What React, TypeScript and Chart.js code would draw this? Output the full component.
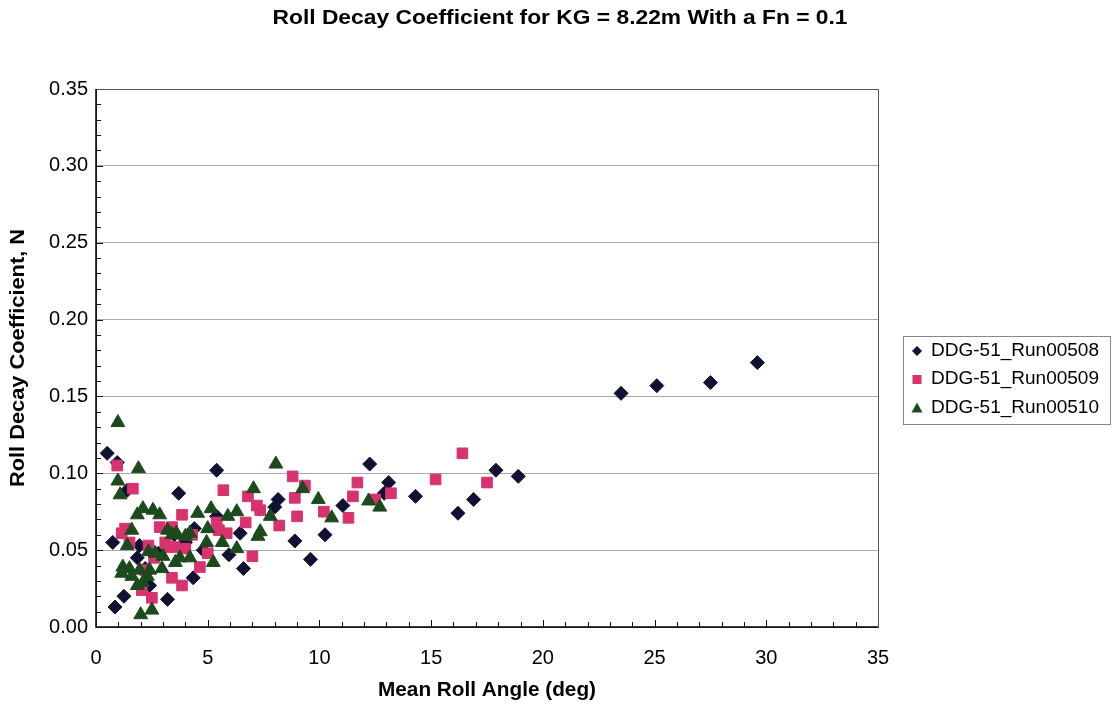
import React, { useEffect, useRef } from 'react';
import { Chart, registerables } from 'chart.js';

Chart.register(...registerables);

const TITLE = 'Roll Decay Coefficient for KG = 8.22m With a Fn = 0.1';
const X_TITLE = 'Mean Roll Angle (deg)';
const Y_TITLE = 'Roll Decay Coefficient, N';
const SERIES_NAMES = ['DDG-51_Run00508', 'DDG-51_Run00509', 'DDG-51_Run00510'];
const X_TICKS = [0, 5, 10, 15, 20, 25, 30, 35];
const Y_TICKS = [0, 0.05, 0.1, 0.15, 0.2, 0.25, 0.3, 0.35];

const run508X = [0.5, 0.95, 0.75, 0.85, 1.25, 1.4, 1.85, 1.95, 2.4, 2.2, 2.8, 3.2, 3.7, 3.5, 4.0, 4.35, 4.4, 4.8, 5.4, 5.4, 5.95, 6.45, 6.6, 8.0, 8.15, 8.9, 9.6, 10.25, 11.05, 12.25, 12.9, 13.1, 14.3, 16.2, 16.9, 17.9, 18.9, 23.5, 25.1, 27.5, 29.6];
const run508Y = [0.113, 0.107, 0.055, 0.013, 0.02, 0.089, 0.045, 0.053, 0.027, 0.038, 0.048, 0.018, 0.087, 0.06, 0.055, 0.032, 0.064, 0.05, 0.102, 0.072, 0.047, 0.061, 0.038, 0.078, 0.083, 0.056, 0.044, 0.06, 0.079, 0.106, 0.087, 0.094, 0.085, 0.074, 0.083, 0.102, 0.098, 0.152, 0.157, 0.159, 0.172];

const run509X = [0.95, 1.65, 1.3, 1.15, 1.5, 2.05, 2.2, 2.35, 2.5, 2.6, 2.85, 3.1, 3.2, 3.4, 3.4, 3.5, 3.85, 3.85, 4.0, 4.3, 4.65, 5.0, 5.4, 5.5, 5.7, 5.85, 6.7, 7.0, 6.8, 7.2, 7.35, 8.2, 8.8, 8.9, 9.0, 9.35, 10.2, 11.3, 11.5, 11.7, 12.5, 13.2, 15.2, 16.4, 17.5];
const run509Y = [0.105, 0.09, 0.064, 0.061, 0.055, 0.024, 0.037, 0.053, 0.019, 0.045, 0.065, 0.055, 0.052, 0.065, 0.032, 0.052, 0.073, 0.027, 0.051, 0.06, 0.039, 0.048, 0.068, 0.063, 0.089, 0.061, 0.068, 0.046, 0.085, 0.079, 0.076, 0.066, 0.098, 0.084, 0.072, 0.092, 0.075, 0.071, 0.085, 0.094, 0.083, 0.087, 0.096, 0.113, 0.094];

const run510X = [0.98, 1.9, 0.98, 1.08, 1.85, 2.1, 2.55, 2.85, 1.6, 1.4, 1.15, 1.2, 1.5, 1.6, 1.85, 1.95, 2.0, 2.1, 2.3, 2.4, 2.5, 2.35, 2.65, 2.95, 3.0, 3.2, 3.4, 3.55, 3.6, 3.75, 4.0, 4.2, 4.2, 4.55, 4.95, 5.0, 5.15, 5.25, 5.65, 5.9, 6.3, 6.3, 7.05, 7.25, 7.35, 7.8, 8.05, 9.25, 9.95, 10.55, 12.2, 12.7];
const run510Y = [0.133, 0.103, 0.095, 0.086, 0.073, 0.077, 0.076, 0.073, 0.063, 0.053, 0.035, 0.039, 0.038, 0.033, 0.027, 0.037, 0.008, 0.029, 0.033, 0.037, 0.011, 0.049, 0.048, 0.038, 0.046, 0.063, 0.06, 0.042, 0.061, 0.045, 0.059, 0.061, 0.045, 0.074, 0.055, 0.064, 0.077, 0.042, 0.055, 0.072, 0.075, 0.051, 0.09, 0.059, 0.062, 0.072, 0.106, 0.09, 0.083, 0.071, 0.082, 0.078];

const COLORS = ['#111133', '#d8336f', '#1d4a1d'];
const FONT = "'Liberation Sans', Arial, sans-serif";

function toPoints(xs: number[], ys: number[]) {
  return xs.map((x, i) => ({ x, y: ys[i] }));
}

function drawFit(ctx: CanvasRenderingContext2D, text: string, x: number, y: number, font: string, width: number, align: 'center' | 'left', rotate = false) {
  ctx.save();
  ctx.font = font;
  const m = ctx.measureText(text).width;
  ctx.translate(x, y);
  if (rotate) ctx.rotate(-Math.PI / 2);
  ctx.scale(width / m, 1);
  ctx.textAlign = align;
  ctx.textBaseline = 'middle';
  ctx.fillStyle = '#000';
  ctx.fillText(text, 0, 0);
  ctx.restore();
}

function legendMarker(ctx: CanvasRenderingContext2D, i: number, x: number, y: number) {
  ctx.save();
  ctx.fillStyle = COLORS[i];
  ctx.beginPath();
  if (i === 0) {
    const r = 5;
    ctx.moveTo(x - r, y);
    ctx.lineTo(x, y - r);
    ctx.lineTo(x + r, y);
    ctx.lineTo(x, y + r);
    ctx.closePath();
  } else if (i === 1) {
    ctx.rect(x - 4.5, y - 4.5, 9, 9);
  } else {
    ctx.moveTo(x, y - 5.5);
    ctx.lineTo(x + 5.5, y + 4.5);
    ctx.lineTo(x - 5.5, y + 4.5);
    ctx.closePath();
  }
  ctx.fill();
  ctx.restore();
}

const decorPlugin = {
  id: 'decor',
  beforeDatasetsDraw(chart: any) {
    const ctx = chart.ctx as CanvasRenderingContext2D;
    const { left, right, top, bottom } = chart.chartArea;
    const xs = chart.scales.x;
    const ys = chart.scales.y;
    ctx.save();
    ctx.strokeStyle = '#111';
    ctx.lineWidth = 1;
    for (let i = 1; i < 35; i++) {
      const py = Math.round(ys.getPixelForValue(i / 100)) + 0.5;
      const len = i % 5 === 0 ? 7 : 5;
      ctx.beginPath();
      ctx.moveTo(left, py);
      ctx.lineTo(left + len, py);
      ctx.stroke();
    }
    for (let i = 1; i < 35; i++) {
      const px = Math.round(xs.getPixelForValue(i)) + 0.5;
      const len = i % 5 === 0 ? 7 : 5;
      ctx.beginPath();
      ctx.moveTo(px, bottom);
      ctx.lineTo(px, bottom - len);
      ctx.stroke();
    }
    ctx.strokeStyle = '#555';
    ctx.strokeRect(Math.round(left) + 0.5, Math.round(top) + 0.5, Math.round(right - left), Math.round(bottom - top));
    ctx.strokeStyle = '#000';
    ctx.lineWidth = 1.5;
    ctx.beginPath();
    ctx.moveTo(left, top);
    ctx.lineTo(left, bottom);
    ctx.lineTo(right, bottom);
    ctx.stroke();
    ctx.restore();
  },
  afterDraw(chart: any) {
    const ctx = chart.ctx as CanvasRenderingContext2D;
    const { left, right, top, bottom } = chart.chartArea;
    drawFit(ctx, TITLE, 560, 18, `bold 20px ${FONT}`, 575, 'center');
    drawFit(ctx, X_TITLE, (left + right) / 2, 690, `bold 20px ${FONT}`, 218, 'center');
    drawFit(ctx, Y_TITLE, 18, (top + bottom) / 2, `bold 20px ${FONT}`, 258, 'center', true);
    const lx = 903, ly = 336, lw = 207, lh = 88;
    ctx.save();
    ctx.strokeStyle = '#888';
    ctx.lineWidth = 1;
    ctx.strokeRect(lx + 0.5, ly + 0.5, lw, lh);
    ctx.restore();
    SERIES_NAMES.forEach((name, i) => {
      const cy = 351 + i * 28.5;
      legendMarker(ctx, i, 917, cy);
      drawFit(ctx, name, 931, cy, `18px ${FONT}`, 168, 'left');
    });
  },
};

export default function App() {
  const ref = useRef<HTMLCanvasElement | null>(null);
  useEffect(() => {
    if (!ref.current) return;
    const chart = new Chart(ref.current, {
      type: 'scatter',
      data: {
        datasets: [
          { label: SERIES_NAMES[0], data: toPoints(run508X, run508Y), pointStyle: 'rectRot', pointRadius: 7, backgroundColor: COLORS[0], borderColor: COLORS[0], borderWidth: 1, order: 2 },
          { label: SERIES_NAMES[1], data: toPoints(run509X, run509Y), pointStyle: 'rect', pointRadius: 7.5, backgroundColor: COLORS[1], borderColor: COLORS[1], borderWidth: 1, order: 1 },
          { label: SERIES_NAMES[2], data: toPoints(run510X, run510Y), pointStyle: 'triangle', pointRadius: 8, backgroundColor: COLORS[2], borderColor: COLORS[2], borderWidth: 1, order: 0 },
        ],
      },
      options: {
        responsive: false,
        animation: false,
        events: [],
        layout: { padding: { left: 0, top: 89, right: 238, bottom: 0 } },
        plugins: { legend: { display: false }, title: { display: false }, tooltip: { enabled: false } },
        scales: {
          x: {
            type: 'linear',
            min: 0,
            max: 35,
            afterBuildTicks: (s: any) => { s.ticks = X_TICKS.map((v) => ({ value: v })); },
            afterFit: (s: any) => { s.height = 82; },
            ticks: { color: '#000', font: { family: FONT, size: 20 }, padding: 11, callback: (v: any) => String(v) },
            grid: { display: false },
            border: { display: false },
          },
          y: {
            type: 'linear',
            min: 0,
            max: 0.35,
            afterBuildTicks: (s: any) => { s.ticks = Y_TICKS.map((v) => ({ value: v })); },
            afterFit: (s: any) => { s.width = 96; },
            ticks: { color: '#000', font: { family: FONT, size: 20 }, padding: 8, callback: (v: any) => Number(v).toFixed(2) },
            grid: { color: '#a8a8a8', lineWidth: 1, drawTicks: false },
            border: { display: false },
          },
        },
      },
      plugins: [decorPlugin],
    });
    return () => chart.destroy();
  }, []);
  return (
    <div style={{ position: 'fixed', left: 0, top: 0, width: 1116, height: 709, background: '#fff' }}>
      <canvas ref={ref} width={1116} height={709} />
    </div>
  );
}
